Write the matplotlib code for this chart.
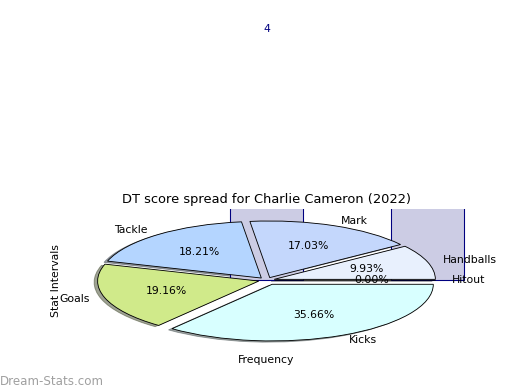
import matplotlib.pyplot as plt

# pie data: share of DT score per stat
stat_names = ['Hitout', 'Handballs', 'Mark', 'Tackle', 'Goals', 'Kicks']
stat_share = [0.00, 9.93, 17.03, 18.21, 19.16, 35.66]
stat_colours = ['#eef2fe', '#e8f0fd', '#c4d7fc', '#b4d5ff', '#d0ea8a', '#d8ffff']
explode = [0.05, 0.05, 0.05, 0.05, 0.05, 0.08]

# frequency bars drawn behind the pie
interval_pos = [0, 1]
interval_count = [4, 6]
bar_labels = ['4', '']  # only the first count fits on the canvas

fig = plt.figure(figsize=(20 / 3, 5), dpi=78)
ax = fig.add_axes([0.125, 0.10, 0.775, 0.363])

bars = ax.bar(interval_pos, interval_count, width=0.45,
              color='#cccce4', edgecolor='navy')
for b, n, lab in zip(bars, interval_count, bar_labels):
    if lab:
        ax.text(b.get_x() + b.get_width() / 2, n + 0.35, lab,
                ha='center', va='bottom', color='navy', clip_on=False)

ax.pie(stat_share, labels=stat_names, colors=stat_colours, explode=explode,
       autopct='%.2f%%', shadow=True,
       wedgeprops={'edgecolor': 'black', 'linewidth': 0.8})

ax.set_aspect('auto')
ax.set_xlim(-1.25, 1.25)
ax.set_ylim(-1.25, 1.25)

ax.set_title('DT score spread for Charlie Cameron (2022)')
ax.set_xlabel('Frequency')
ax.set_ylabel('Stat Intervals')

fig.text(0.0, 0.013, 'Dream-Stats.com', color='#a0a0a0', fontsize=11)

plt.savefig('out.png', dpi=78)
